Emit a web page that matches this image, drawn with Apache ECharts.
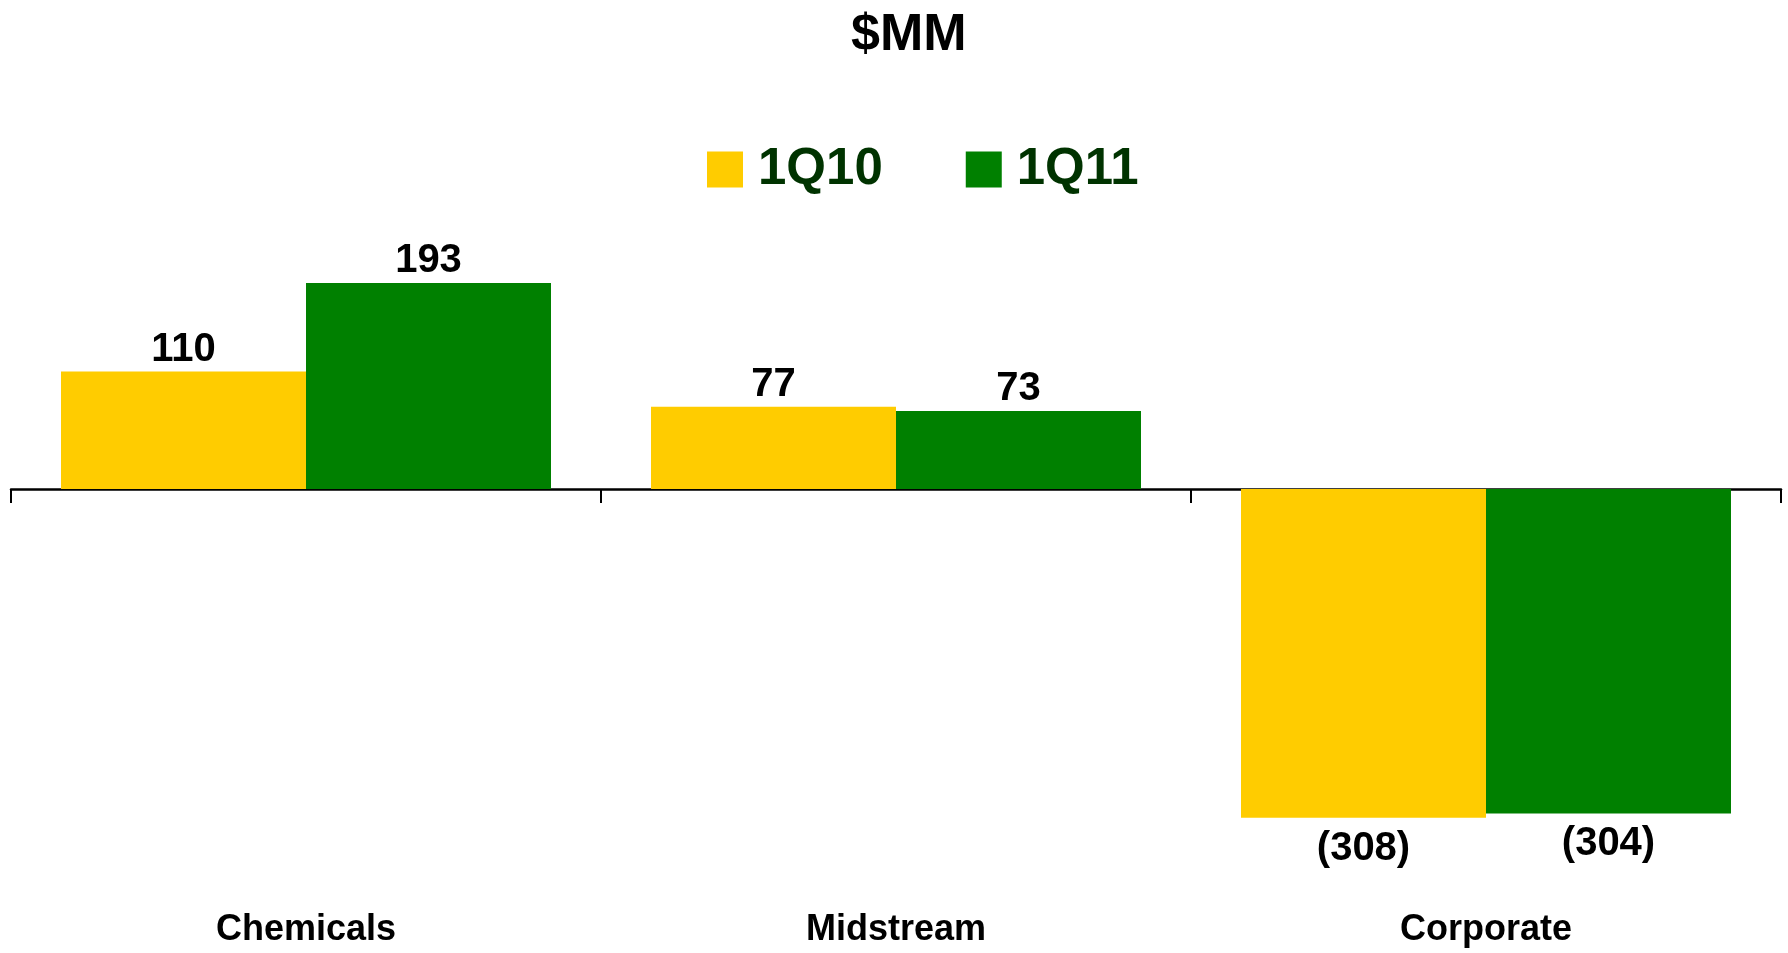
<!DOCTYPE html>
<html>
<head>
<meta charset="utf-8">
<script src="https://cdn.jsdelivr.net/npm/echarts@6/dist/echarts.min.js"></script>
<style>
html,body{margin:0;padding:0;background:#fff;}
#chart{width:1788px;height:953px;}
</style>
</head>
<body>
<div id="chart"></div>
<script>
const categories = ['Chemicals', 'Midstream', 'Corporate'];
const seriesNames = ['1Q10', '1Q11'];
const values1Q10 = [110, 77, -308];
const values1Q11 = [193, 73, -304];
const titleText = '$MM';

const FONT = 'Arial, "Liberation Sans", Helvetica, sans-serif';
const chart = echarts.init(document.getElementById('chart'));

function fmt(p) {
  const v = p.value;
  return v < 0 ? '(' + Math.abs(v) + ')' : String(v);
}
function labelCfg() {
  return {
    show: true,
    position: 'top',
    distance: 2,
    fontFamily: FONT,
    fontWeight: 'bold',
    fontSize: 40,
    color: '#000',
    formatter: fmt
  };
}
function makeData(arr) {
  return arr.map(v => ({
    value: v,
    label: v < 0 ? { position: 'bottom', distance: 11 } : {}
  }));
}

chart.setOption({
  animation: false,
  backgroundColor: '#fff',
  title: {
    text: titleText,
    left: 846,
    top: 5,
    textStyle: { fontFamily: FONT, fontWeight: 'bold', fontSize: 52, color: '#000' }
  },
  legend: {
    data: seriesNames,
    left: 702,
    top: 139,
    itemWidth: 36,
    itemHeight: 36,
    itemGap: 83,
    icon: 'rect',
    textStyle: { fontFamily: FONT, fontWeight: 'bold', fontSize: 51, color: '#003300', padding: [0, 0, 0, 10] }
  },
  grid: { left: 11, right: 7, top: 222.2, bottom: 90.5, containLabel: false, outerBoundsMode: 'none' },
  xAxis: [
    {
      type: 'category',
      data: categories,
      axisLine: { onZero: true, lineStyle: { color: '#000', width: 2.5 } },
      axisTick: { show: true, length: 14, lineStyle: { color: '#000', width: 2 } },
      axisLabel: { show: false },
      splitLine: { show: false }
    },
    {
      type: 'category',
      data: categories,
      position: 'bottom',
      axisLine: { show: false, onZero: false },
      axisTick: { show: false },
      axisLabel: {
        margin: 50,
        fontFamily: FONT,
        fontWeight: 'bold',
        fontSize: 36,
        color: '#000'
      },
      splitLine: { show: false }
    }
  ],
  yAxis: {
    type: 'value',
    min: -350,
    max: 250,
    show: false,
    splitLine: { show: false }
  },
  series: [
    {
      name: seriesNames[0],
      type: 'bar',
      xAxisIndex: 0,
      data: makeData(values1Q10),
      barWidth: 245,
      barGap: '0%',
      itemStyle: { color: '#FFCC00' },
      label: labelCfg()
    },
    {
      name: seriesNames[1],
      type: 'bar',
      xAxisIndex: 0,
      data: makeData(values1Q11),
      barWidth: 245,
      barGap: '0%',
      itemStyle: { color: '#008000' },
      label: labelCfg()
    }
  ]
});
</script>
</body>
</html>
